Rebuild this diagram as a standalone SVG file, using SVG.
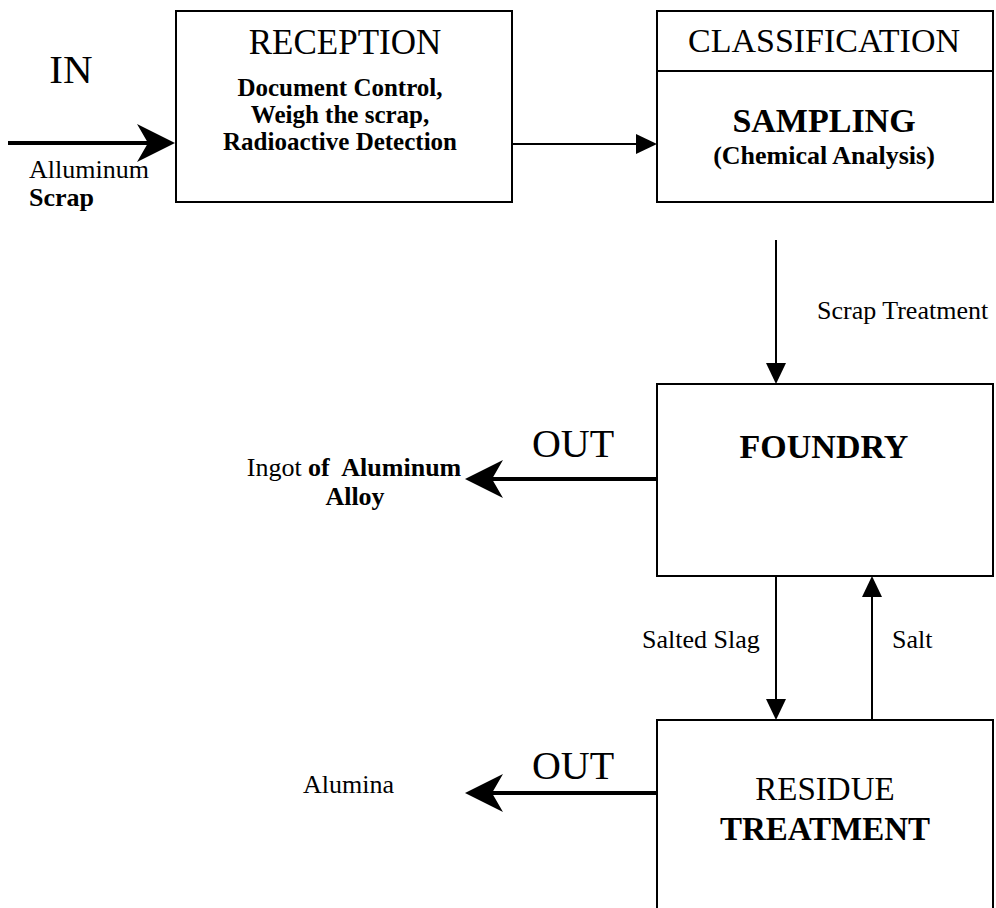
<svg xmlns="http://www.w3.org/2000/svg" width="996" height="908" viewBox="0 0 996 908">
<style>
text{font-family:"Liberation Serif","Times New Roman",serif;fill:#000}
.b{font-weight:bold}
.box{fill:#fff;stroke:#000;stroke-width:2}
.thin{stroke:#000;stroke-width:2;fill:none}
.thick{stroke:#000;stroke-width:4;fill:none}
.m{text-anchor:middle}
</style>
<defs>
<marker id="tri" markerUnits="userSpaceOnUse" markerWidth="21" markerHeight="20" refX="0" refY="10" orient="auto" overflow="visible">
<path d="M0,0 L21,10 L0,20 Z" fill="#000"/>
</marker>
<marker id="notch" markerUnits="userSpaceOnUse" markerWidth="38" markerHeight="38" refX="11" refY="19" orient="auto" overflow="visible">
<path d="M38,19 L0,0 L11,19 L0,38 Z" fill="#000"/>
</marker>
</defs>
<rect width="996" height="908" fill="#fff"/>
<g id="connectors">
<line class="thick" x1="8" y1="143" x2="148" y2="143" marker-end="url(#notch)"/>
<line class="thin" x1="512" y1="144" x2="636" y2="144" marker-end="url(#tri)"/>
<line class="thin" x1="776" y1="240" x2="776" y2="363" marker-end="url(#tri)"/>
<line class="thick" x1="656" y1="479" x2="492" y2="479" marker-end="url(#notch)"/>
<line class="thin" x1="776" y1="577" x2="776" y2="699" marker-end="url(#tri)"/>
<line class="thin" x1="872" y1="720" x2="872" y2="597" marker-end="url(#tri)"/>
<line class="thick" x1="656" y1="793" x2="492" y2="793" marker-end="url(#notch)"/>
</g>
<g id="labels">
<text x="71" y="83" font-size="41" class="m">IN</text>
<text x="29" y="178" font-size="26">Alluminum</text>
<text x="29" y="206" font-size="26" class="b">Scrap</text>
<text x="817" y="319" font-size="26">Scrap Treatment</text>
<text x="573" y="457" font-size="40" class="m">OUT</text>
<text x="354" y="476" font-size="26" class="m" style="white-space:pre">Ingot <tspan class="b">of  Aluminum</tspan></text>
<text x="355" y="505" font-size="26" class="m b">Alloy</text>
<text x="642" y="648" font-size="26">Salted Slag</text>
<text x="892" y="648" font-size="26">Salt</text>
<text x="573" y="779" font-size="40" class="m">OUT</text>
<text x="303" y="793" font-size="26">Alumina</text>
</g>
<g id="reception">
<rect class="box" x="176" y="11" width="336" height="191"/>
<text x="345" y="54" font-size="35" class="m">RECEPTION</text>
<text x="340" y="96" font-size="25" class="m b">Document Control,</text>
<text x="340" y="123" font-size="25" class="m b">Weigh the scrap,</text>
<text x="340" y="150" font-size="25" class="m b">Radioactive Detection</text>
</g>
<g id="classification">
<rect class="box" x="657" y="11" width="336" height="191"/>
<line class="thin" x1="657" y1="71" x2="993" y2="71"/>
<text x="824" y="52" font-size="34" class="m">CLASSIFICATION</text>
<text x="824" y="132" font-size="34" class="m b">SAMPLING</text>
<text x="824" y="164" font-size="26" class="m b">(Chemical Analysis)</text>
</g>
<g id="foundry">
<rect class="box" x="657" y="384" width="336" height="192"/>
<text x="824" y="458" font-size="34" class="m b">FOUNDRY</text>
</g>
<g id="residue">
<rect class="box" x="657" y="720" width="336" height="200"/>
<text x="825" y="800" font-size="33" class="m">RESIDUE</text>
<text x="825" y="840" font-size="33" class="m b">TREATMENT</text>
</g>
</svg>
